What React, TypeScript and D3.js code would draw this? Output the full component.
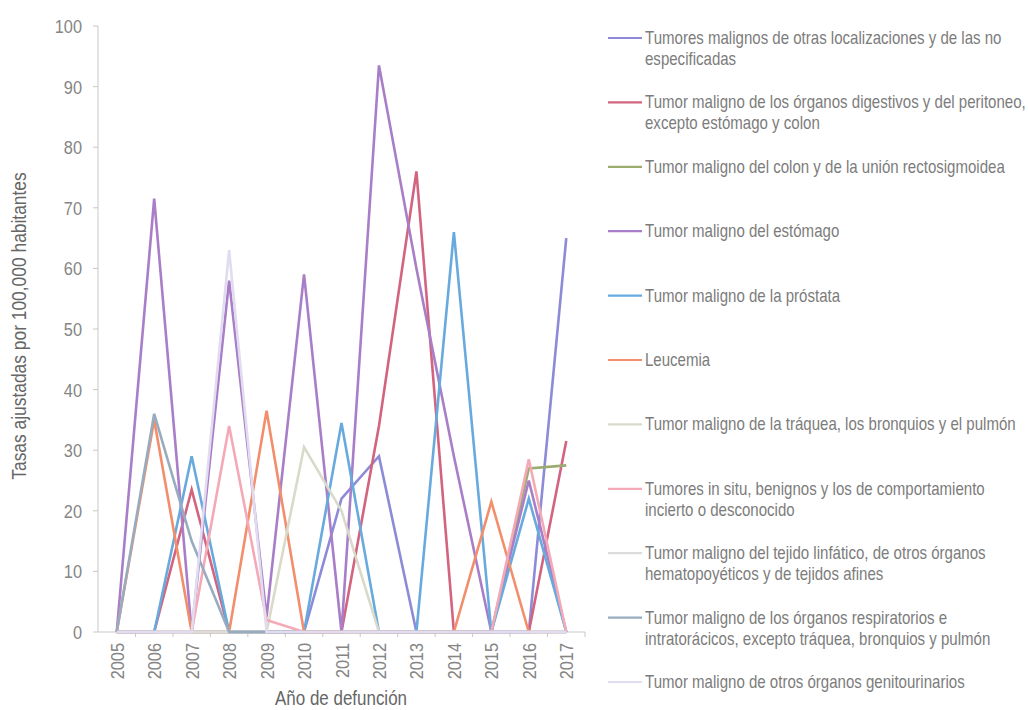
import React from "react";
import * as d3 from "d3";

const years = ["2005","2006","2007","2008","2009","2010","2011","2012","2013","2014","2015","2016","2017"];
const yTicks = [0,10,20,30,40,50,60,70,80,90,100];

const otras =          [0, 0, 0, 0, 0, 0, 22, 29, 0, 0, 0, 0, 65];
const digestivos =     [0, 0, 23.5, 0, 0, 0, 0, 34, 76, 0, 0, 0, 31.5];
const colon =          [0, 0, 0, 0, 0, 0, 0, 0, 0, 0, 0, 27, 27.5];
const estomago =       [0, 71.5, 0, 58, 2.5, 59, 0, 93.5, 60, 29, 0, 25, 0];
const prostata =       [0, 0, 29, 0, 0, 0, 34.5, 0, 0, 66, 0, 22, 0];
const leucemia =       [0, 35, 0, 0, 36.5, 0, 0, 0, 0, 0, 21.5, 0, 0];
const traquea =        [0, 0, 0, 0, 0, 30.5, 20, 0, 0, 0, 0, 0, 0];
const insitu =         [0, 0, 0, 34, 2, 0, 0, 0, 0, 0, 0, 28.5, 0];
const linfatico =      [0, 0, 0, 0, 0, 0, 0, 0, 0, 0, 0, 0, 0];
const respiratorios =  [0, 36, 15, 0, 0, 0, 0, 0, 0, 0, 0, 0, 0];
const genitourinarios =[0, 0, 0, 63, 0, 0, 0, 0, 0, 0, 0, 0, 0];

const seriesNames = [
  ["Tumores malignos de otras localizaciones y de las no", "especificadas"],
  ["Tumor maligno de los órganos digestivos y del peritoneo,", "excepto estómago y colon"],
  ["Tumor maligno del colon y de la unión rectosigmoidea"],
  ["Tumor maligno del estómago"],
  ["Tumor maligno de la próstata"],
  ["Leucemia"],
  ["Tumor maligno de la tráquea, los bronquios y el pulmón"],
  ["Tumores in situ, benignos y los de comportamiento", "incierto o desconocido"],
  ["Tumor maligno del tejido linfático, de otros órganos", "hematopoyéticos y de tejidos afines"],
  ["Tumor maligno de los órganos respiratorios e", "intratorácicos, excepto tráquea, bronquios y pulmón"],
  ["Tumor maligno de otros órganos genitourinarios"],
];
const seriesValues = [otras, digestivos, colon, estomago, prostata, leucemia, traquea, insitu, linfatico, respiratorios, genitourinarios];
const seriesColors = ["#8d8ad8", "#d2647f", "#9cab70", "#a87ec8", "#68aade", "#f28e6c", "#dadacb", "#f4aab6", "#dcdcdc", "#98acc0", "#e2dcf0"];

const FONT = "'Liberation Sans', Arial, sans-serif";

function NText(props: any) {
  const { x, y, rotate, sx = 0.86, size, anchor = "start", fill = "#7c7c7c", children } = props;
  return (
    <text
      transform={`translate(${x},${y})${rotate ? ` rotate(${rotate})` : ""} scale(${sx},1)`}
      textAnchor={anchor}
      fontSize={size}
      fill={fill}
      fontFamily={FONT}
    >
      {children}
    </text>
  );
}

export default function App() {
  const W = 1028, H = 710;
  const x = d3.scaleBand<string>().domain(years).range([98, 585]).padding(0);
  const bw = x.bandwidth();
  const cx = (yr: string) => (x(yr) as number) + bw / 2;
  const y = d3.scaleLinear().domain([0, 100]).range([632, 26]);
  const line = d3.line<[string, number]>().x(d => cx(d[0])).y(d => y(d[1]));

  const legendX = 608;
  const legendTop = 38;
  const legendStep = 64.4;

  return (
    <svg width={W} height={H} style={{ position: "absolute", left: 0, top: 0, background: "#fff" }}>
      <rect x={0} y={0} width={W} height={H} fill="#fff" />
      <line x1={98} x2={98} y1={y(100)} y2={y(0)} stroke="#c8c8c8" strokeWidth={1} />
      {yTicks.map(t => (
        <g key={t}>
          <line x1={93} x2={98} y1={y(t)} y2={y(t)} stroke="#c8c8c8" />
          <NText x={82} y={y(t) + 7} size={19} anchor="end" fill="#858585">{t}</NText>
        </g>
      ))}
      <line x1={98} x2={585} y1={y(0)} y2={y(0)} stroke="#c8c8c8" />
      {years.map((yr) => (
        <g key={yr}>
          <line x1={(x(yr) as number) + bw} x2={(x(yr) as number) + bw} y1={y(0)} y2={y(0) + 5} stroke="#c8c8c8" />
          <NText x={cx(yr) + 7} y={643} rotate={-90} size={19} anchor="end" fill="#858585">{yr}</NText>
        </g>
      ))}
      <NText x={26} y={326} rotate={-90} size={20} sx={0.87} anchor="middle" fill="#666">Tasas ajustadas por 100,000 habitantes</NText>
      <NText x={341} y={705} size={19.5} sx={0.87} anchor="middle" fill="#666">Año de defunción</NText>
      {seriesValues.map((vals, i) => (
        <path
          key={i}
          d={line(years.map((yr, j) => [yr, vals[j]] as [string, number])) || ""}
          fill="none"
          stroke={seriesColors[i]}
          strokeWidth={2.6}
          strokeLinejoin="miter"
        />
      ))}
      {seriesNames.map((lines, i) => {
        const cy = legendTop + i * legendStep;
        return (
          <g key={i}>
            <line x1={legendX} x2={legendX + 34} y1={cy} y2={cy} stroke={seriesColors[i]} strokeWidth={2.2} />
            {lines.map((ln, k) => (
              <NText key={k} x={645} y={cy + 6 + k * 21} size={17.5} sx={0.86}>{ln}</NText>
            ))}
          </g>
        );
      })}
    </svg>
  );
}
